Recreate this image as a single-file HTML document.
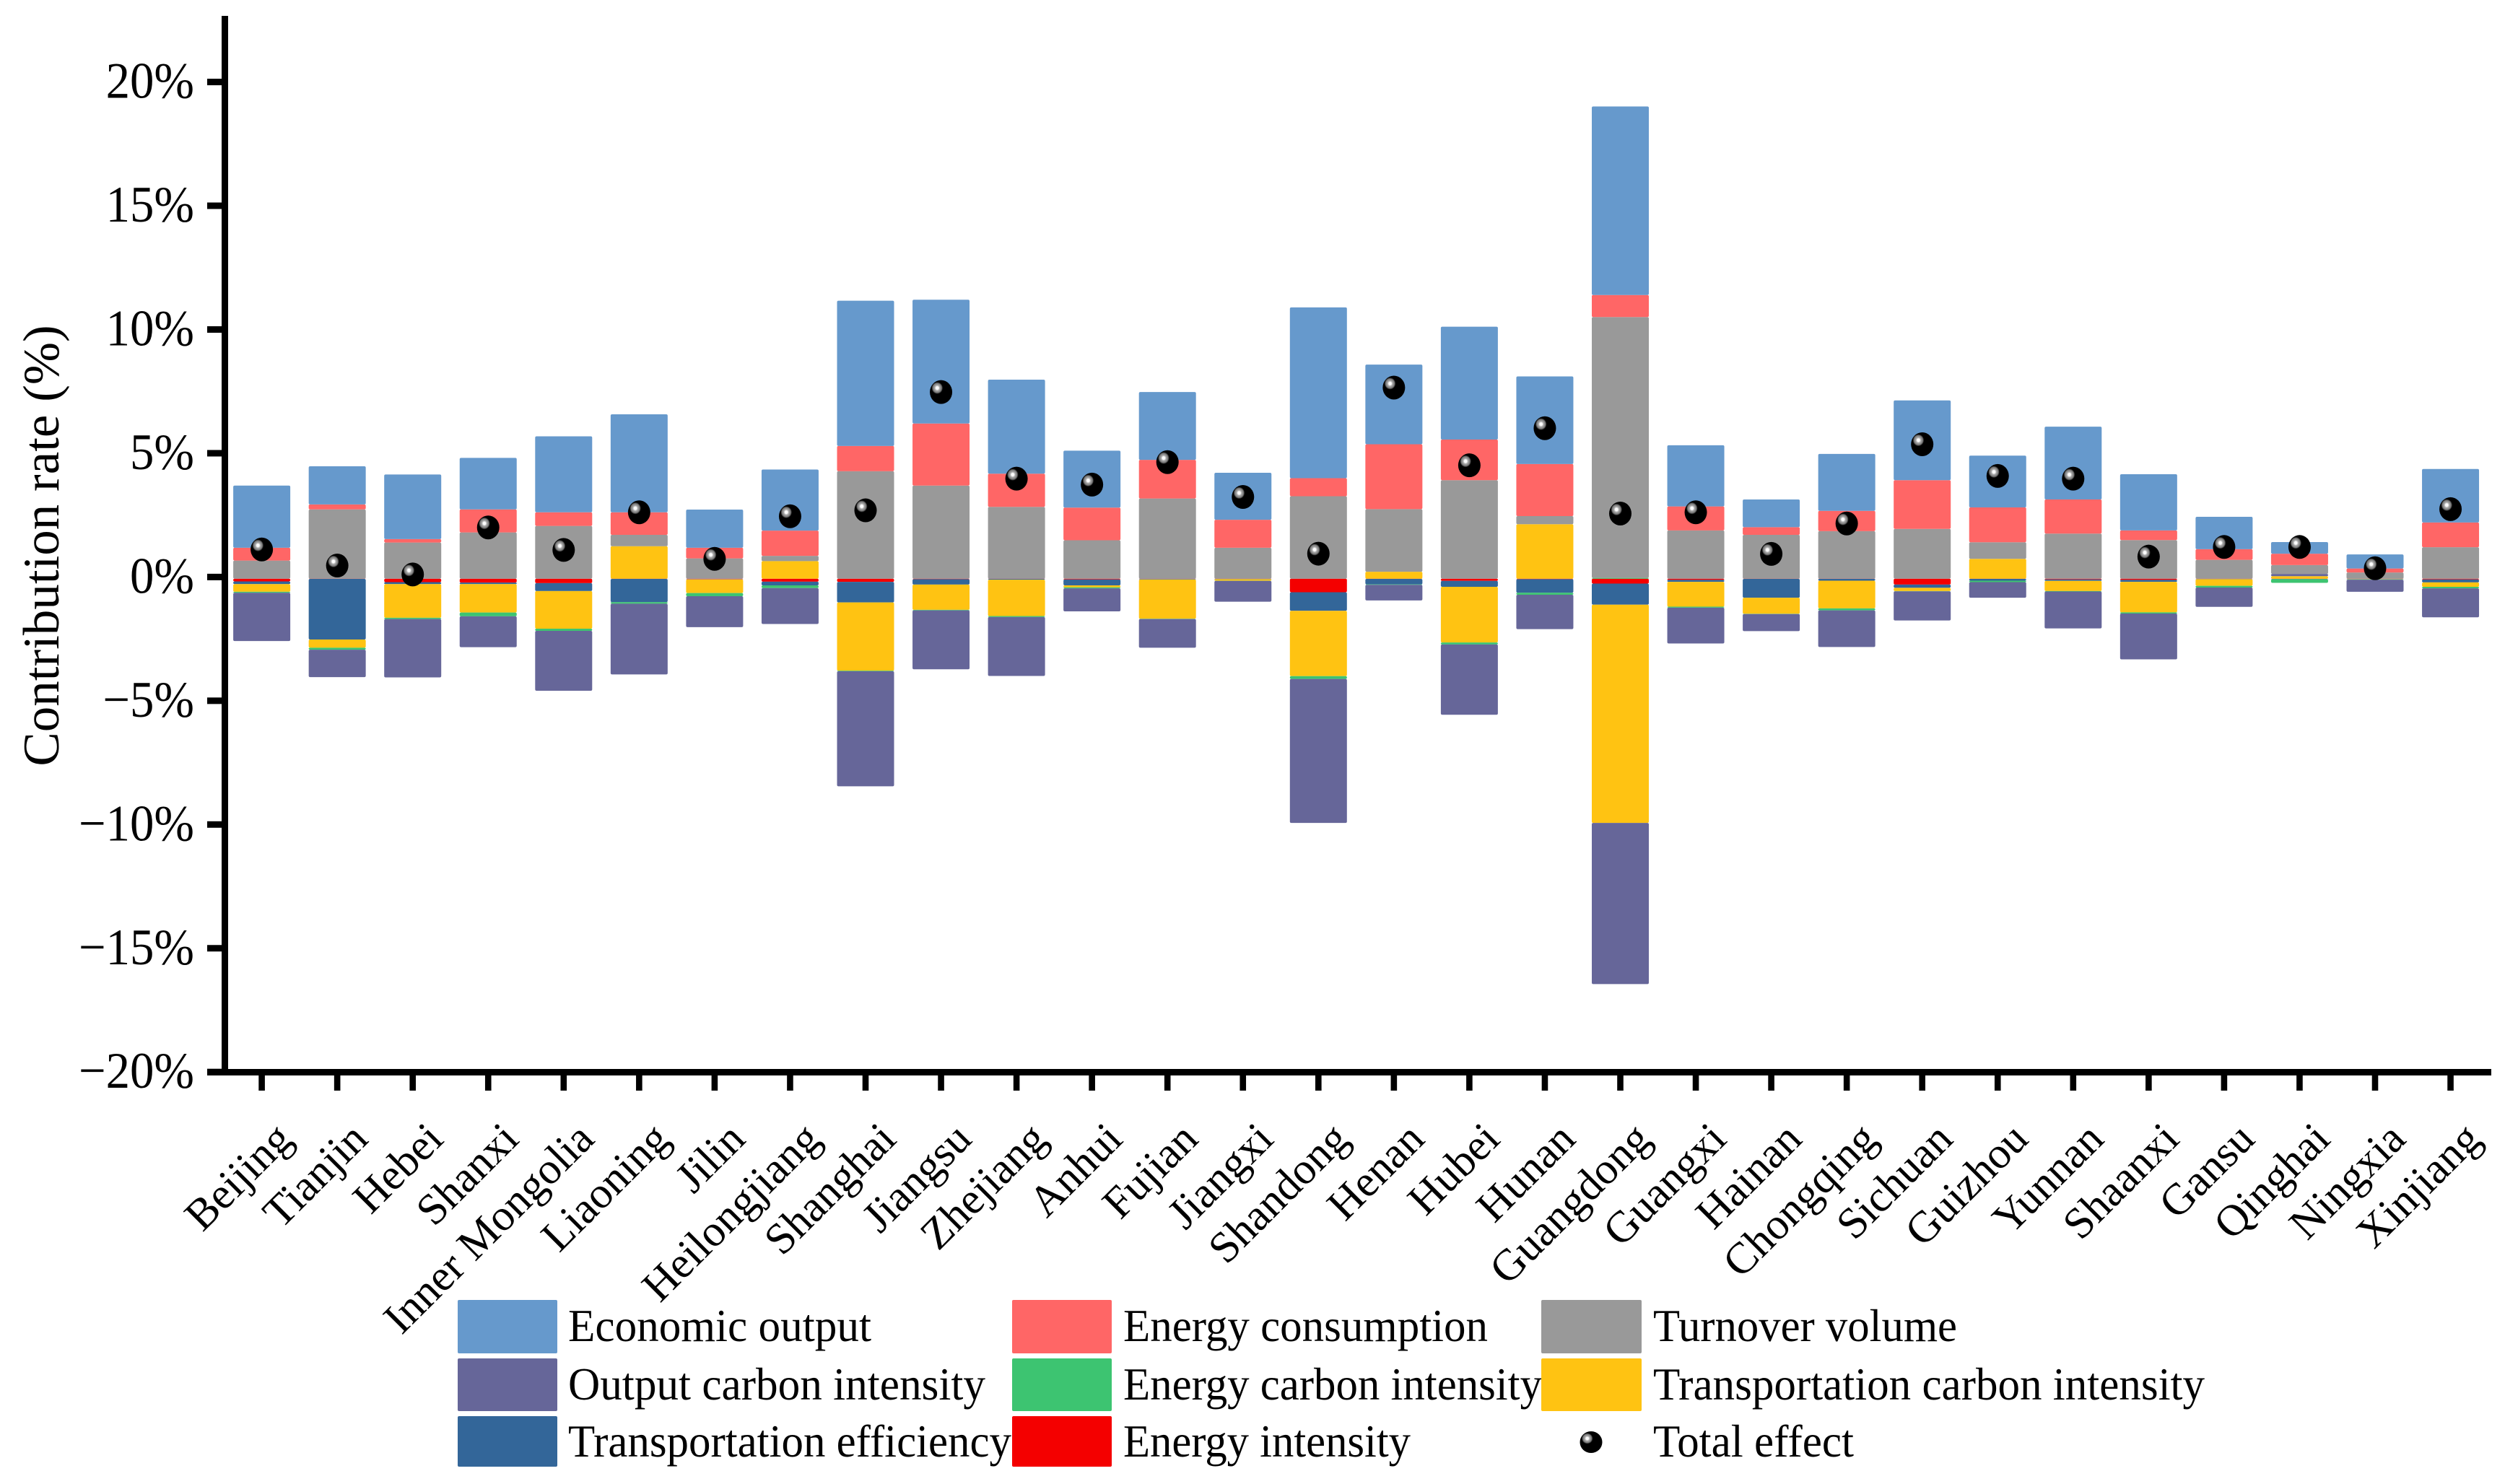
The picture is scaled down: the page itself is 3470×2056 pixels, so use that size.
<!DOCTYPE html>
<html>
<head>
<meta charset="utf-8">
<title>Contribution rate by province</title>
<style>
html,body{margin:0;padding:0;background:#fff;}
svg{display:block;}
text{font-family:"Liberation Serif",serif;fill:#000;}
</style>
</head>
<body>
<svg id="chart" xmlns="http://www.w3.org/2000/svg" width="3470" height="2056" viewBox="0 0 3470 2056">
<rect x="0" y="0" width="3470" height="2056" fill="#fff"/>
<defs>
<radialGradient id="ball" gradientUnits="objectBoundingBox" cx="0.33" cy="0.33" r="0.7">
<stop offset="0" stop-color="#fff"/>
<stop offset="0.08" stop-color="#fff"/>
<stop offset="0.16" stop-color="#aaa"/>
<stop offset="0.28" stop-color="#777"/>
<stop offset="0.36" stop-color="#000"/>
<stop offset="1" stop-color="#000"/>
</radialGradient>
</defs>
<text transform="translate(81,756) rotate(-90)" text-anchor="middle" font-size="71">Contribution rate (%)</text>
<g id="plot"></g>
<g id="axes"></g>
<g id="legend">
<g><rect x="634" y="1801" width="138" height="74" rx="2" fill="#6699cc"/><text x="787" y="1858" font-size="64" textLength="420" lengthAdjust="spacingAndGlyphs">Economic output</text></g>
<g><rect x="1402" y="1801" width="138" height="74" rx="2" fill="#ff6666"/><text x="1556" y="1858" font-size="64" textLength="505" lengthAdjust="spacingAndGlyphs">Energy consumption</text></g>
<g><rect x="2135" y="1801" width="139" height="74" rx="2" fill="#999999"/><text x="2290" y="1858" font-size="64" textLength="421" lengthAdjust="spacingAndGlyphs">Turnover volume</text></g>
<g><rect x="634" y="1882" width="138" height="73" rx="2" fill="#666699"/><text x="787" y="1939" font-size="64" textLength="578" lengthAdjust="spacingAndGlyphs">Output carbon intensity</text></g>
<g><rect x="1402" y="1882" width="138" height="73" rx="2" fill="#3dc471"/><text x="1556" y="1939" font-size="64" textLength="580" lengthAdjust="spacingAndGlyphs">Energy carbon intensity</text></g>
<g><rect x="2135" y="1882" width="139" height="73" rx="2" fill="#ffc312"/><text x="2290" y="1939" font-size="64" textLength="764" lengthAdjust="spacingAndGlyphs">Transportation carbon intensity</text></g>
<g><rect x="634" y="1962" width="138" height="70" rx="2" fill="#336699"/><text x="787" y="2018" font-size="64" textLength="614" lengthAdjust="spacingAndGlyphs">Transportation efficiency</text></g>
<g><rect x="1402" y="1962" width="138" height="70" rx="2" fill="#f40000"/><text x="1556" y="2018" font-size="64" textLength="398" lengthAdjust="spacingAndGlyphs">Energy intensity</text></g>
<g><ellipse cx="2204" cy="1998" rx="15.5" ry="15" fill="url(#ball)"/><text x="2290" y="2018" font-size="64" textLength="278" lengthAdjust="spacingAndGlyphs">Total effect</text></g>
</g>
</svg>
<script>
const categories = ["Beijing","Tianjin","Hebei","Shanxi","Inner Mongolia","Liaoning","Jilin","Heilongjiang","Shanghai","Jiangsu","Zhejiang","Anhui","Fujian","Jiangxi","Shandong","Henan","Hubei","Hunan","Guangdong","Guangxi","Hainan","Chongqing","Sichuan","Guizhou","Yunnan","Shaanxi","Gansu","Qinghai","Ningxia","Xinjiang"];
const economicOutput = [2.51,1.54,2.61,2.08,3.07,3.96,1.54,2.47,5.87,5.0,3.8,2.3,2.74,1.9,6.9,3.22,4.56,3.54,7.62,2.47,1.12,2.3,3.22,2.09,2.94,2.27,1.31,0.47,0.57,2.16];
const energyConsumption = [0.52,0.2,0.14,0.93,0.55,0.91,0.43,1.02,1.02,2.51,1.34,1.32,1.56,1.13,0.73,2.62,1.64,2.1,0.89,0.97,0.31,0.82,1.97,1.41,1.38,0.39,0.43,0.46,0.16,1.0];
const turnoverVolume = [0.73,2.8,1.46,1.87,2.13,0.46,0.82,0.21,4.34,3.76,2.9,1.55,3.24,1.25,3.33,2.53,3.98,0.33,10.54,1.95,1.77,1.92,2.01,0.67,1.82,1.56,0.76,0.36,0.25,1.27];
const outputCarbonIntensity = [-1.95,-1.11,-2.36,-1.25,-2.42,-2.86,-1.25,-1.45,-4.65,-2.38,-2.38,-0.93,-1.16,-0.84,-5.82,-0.63,-2.84,-1.39,-6.51,-1.45,-0.69,-1.48,-1.18,-0.63,-1.49,-1.85,-0.78,0.09,-0.49,-1.17];
const energyCarbonIntensity = [-0.04,-0.08,-0.05,-0.15,-0.09,-0.06,-0.13,-0.11,-0.02,-0.02,-0.04,-0.04,-0.01,-0.01,-0.11,-0.02,-0.08,-0.08,0.03,-0.04,-0.01,-0.08,-0.01,-0.06,-0.02,-0.05,-0.07,-0.15,-0.01,-0.06];
const transportCarbonIntensity = [-0.31,-0.33,-1.36,-1.15,-1.52,1.31,-0.55,0.71,-2.76,-1.02,-1.47,-0.08,-1.59,-0.06,-2.64,0.28,-2.25,2.2,-8.82,-1.0,-0.65,-1.12,-0.13,0.8,-0.41,-1.23,-0.27,0.1,-0.01,-0.18];
const transportEfficiency = [-0.11,-2.45,-0.08,-0.06,-0.32,-0.94,-0.01,-0.15,-0.83,-0.22,-0.03,-0.24,-0.02,-0.01,-0.75,-0.22,-0.24,-0.55,-0.85,-0.08,-0.76,-0.07,-0.13,-0.07,-0.06,-0.08,-0.01,-0.01,-0.01,-0.12];
const energyIntensity = [-0.11,-0.01,-0.14,-0.16,-0.18,-0.01,-0.02,-0.12,-0.13,-0.02,-0.01,-0.03,-0.01,-0.01,-0.55,-0.01,-0.09,-0.02,-0.2,-0.05,-0.01,-0.01,-0.24,-0.01,-0.03,-0.05,-0.01,-0.01,-0.01,-0.03];
const totalEffect = [1.18,0.53,0.17,2.07,1.16,2.68,0.8,2.52,2.76,7.54,4.04,3.8,4.71,3.3,1.01,7.72,4.58,6.08,2.63,2.68,1.0,2.23,5.43,4.15,4.04,0.89,1.28,1.28,0.42,2.81];
const yTickValues = [20,15,10,5,0,-5,-10,-15,-20];
const yTickLabels = ["20%","15%","10%","5%","0%","\u22125%","\u221210%","\u221215%","\u221220%"];

const svgNS = "http://www.w3.org/2000/svg";
const PX_PER_UNIT = 34.29;
const Y_TICK_ZERO = 799.4;
const Y_BAR_ZERO = 801.7;
const X_FIRST = 362.6;
const X_STEP = 104.55;
const BAR_W = 79;

function xScale(i){ return X_FIRST + X_STEP * i; }
function yAxisScale(v){ return Y_TICK_ZERO - PX_PER_UNIT * v; }
function yBarScale(v){ return Y_BAR_ZERO - PX_PER_UNIT * v; }

function make(tag, attrs, parent){
  const el = document.createElementNS(svgNS, tag);
  for (const k in attrs) el.setAttribute(k, attrs[k]);
  parent.appendChild(el);
  return el;
}

const plot = document.getElementById("plot");
const axes = document.getElementById("axes");

const stackOrder = [
  {key:"energy-intensity", values:energyIntensity, color:"#f40000"},
  {key:"transportation-efficiency", values:transportEfficiency, color:"#336699"},
  {key:"transportation-carbon-intensity", values:transportCarbonIntensity, color:"#ffc312"},
  {key:"energy-carbon-intensity", values:energyCarbonIntensity, color:"#3dc471"},
  {key:"output-carbon-intensity", values:outputCarbonIntensity, color:"#666699"},
  {key:"turnover-volume", values:turnoverVolume, color:"#999999"},
  {key:"energy-consumption", values:energyConsumption, color:"#ff6666"},
  {key:"economic-output", values:economicOutput, color:"#6699cc"}
];

categories.forEach(function(cat, i){
  let pos = 0, neg = 0;
  stackOrder.forEach(function(series){
    const v = series.values[i];
    if (!v) return;
    const a = v > 0 ? pos : neg;
    const b = a + v;
    if (v > 0) pos = b; else neg = b;
    const y1 = yBarScale(Math.max(a, b));
    const y2 = yBarScale(Math.min(a, b));
    const r = make("rect", {x: xScale(i) - BAR_W / 2, y: y1, width: BAR_W, height: y2 - y1, rx: 2, fill: series.color}, plot);
    
    
  });
});

categories.forEach(function(cat, i){
  const m = make("ellipse", {cx: xScale(i), cy: yBarScale(totalEffect[i]), rx: 15.5, ry: 16.5, fill: "url(#ball)"}, plot);
  
  
});

const yLine = make("rect", {x: 307, y: 22, width: 9, height: 1467, fill: "#000"}, axes);


const xLine = make("rect", {x: 287, y: 1481, width: 3164, height: 9, fill: "#000"}, axes);



yTickValues.forEach(function(v, i){
  const t = make("rect", {x: 287, y: yAxisScale(v) - 4.5, width: 22, height: 9, fill: "#000"}, axes);
  
  
  const l = make("text", {transform: "translate(269," + (yAxisScale(v) + 22) + ") scale(0.94,1)", "text-anchor": "end", "font-size": 71}, axes);
  
  
  l.textContent = yTickLabels[i];
});

categories.forEach(function(cat, i){
  const t = make("rect", {x: xScale(i) - 4.3, y: 1485, width: 8.6, height: 26, fill: "#000"}, axes);
  
  
  const l = make("text", {transform: "translate(" + (xScale(i) + 45) + ",1581) rotate(-45)", "text-anchor": "end", "font-size": 61}, axes);
  
  
  l.textContent = cat;
});
</script>
</body>
</html>
